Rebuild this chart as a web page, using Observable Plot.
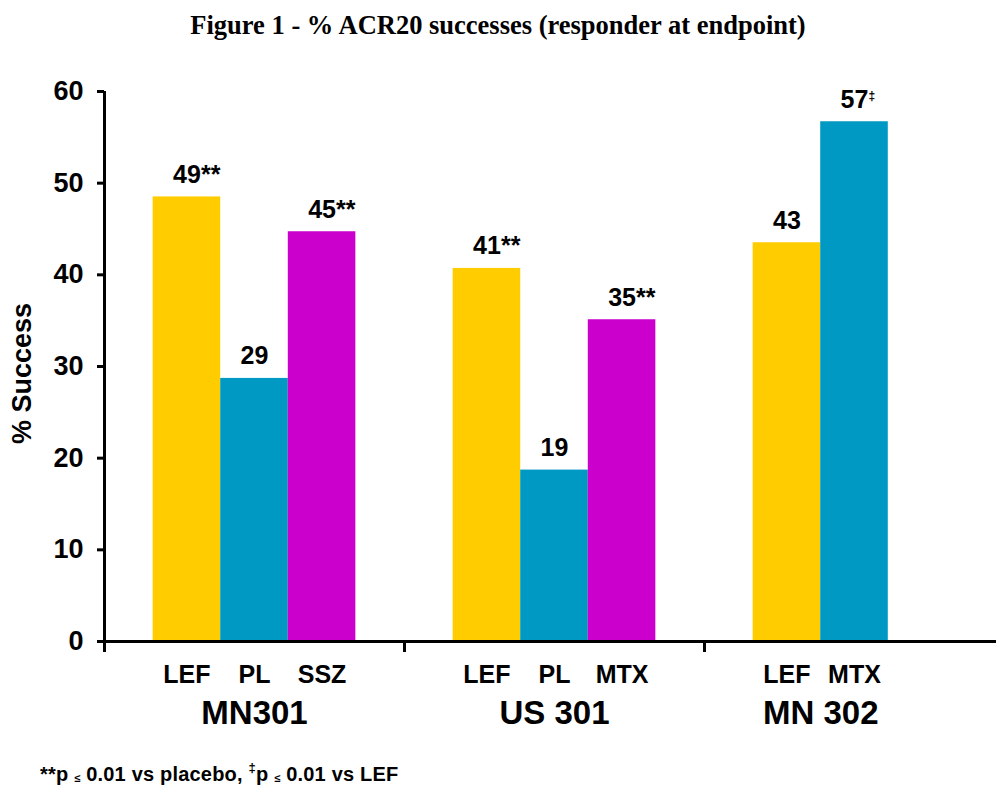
<!DOCTYPE html>
<html>
<head>
<meta charset="utf-8">
<script src="https://cdn.jsdelivr.net/npm/d3@7"></script>
<script src="https://cdn.jsdelivr.net/npm/@observablehq/plot@0.6"></script>
<style>
  html, body { margin: 0; padding: 0; background: #fff; overflow: hidden; }
  #title { font-family: "Liberation Serif", "Times New Roman", serif; font-weight: bold; font-size: 26.5px;
           text-align: center; height: 50px; line-height: 50px; color: #000; }
  #chart svg { display: block; }
  #note { font-family: "Liberation Sans", Arial, sans-serif; font-weight: bold; font-size: 20px;
          margin: 22px 0 0 40px; color: #000; line-height: 22px; white-space: nowrap; letter-spacing: 0.2px; }
  #note .sub { font-size: 11px; vertical-align: -1px; }
  #note .sup { font-size: 13px; vertical-align: 9px; }
</style>
</head>
<body>
<div id="title">Figure 1 - % ACR20 successes (responder at endpoint)</div>
<div id="chart"></div>
<div id="note">**p <span class="sub">≤</span> 0.01 vs placebo, <span class="sup">‡</span>p <span class="sub">≤</span> 0.01 vs LEF</div>
<script>
// ---- data ----
const studies = ["MN301", "US 301", "MN 302"];
const study = ["MN301", "MN301", "MN301", "US 301", "US 301", "US 301", "MN 302", "MN 302"];
const treatment = ["LEF", "PL", "SSZ", "LEF", "PL", "MTX", "LEF", "MTX"];
const values = [48.5, 28.7, 44.7, 40.7, 18.7, 35.1, 43.5, 56.7];
const valueLabels = ["49", "29", "45", "41", "19", "35", "43", "57"];
const significance = ["**", "", "**", "**", "", "**", "", "‡"];
const yTicks = [0, 10, 20, 30, 40, 50, 60];
const slotColors = ["#FFCC00", "#0099C4", "#CC00CC"];

// ---- layout (slot units: one bar = 1) ----
const GROUP = 4.44;   // width of a study group in bar units
const OFFSET = 0.72;  // empty space before first bar of a group

const rows = study.map((s, k) => {
  const g = studies.indexOf(s);
  const i = study.slice(0, k).filter(v => v === s).length;
  return {study: s, g, i, treatment: treatment[k], value: values[k], label: valueLabels[k], sig: significance[k]};
});
const left = d => d.g * GROUP + OFFSET + d.i;
const center = d => left(d) + 0.5;
const groupRows = studies.map((s, g) => {
  const n = study.filter(v => v === s).length;
  return {study: s, x: g * GROUP + OFFSET + n / 2};
});

const font = "'Liberation Sans', Arial, Helvetica, sans-serif";
const plotW = 996, mL = 104;
const chart = Plot.plot({
  width: plotW,
  height: 685,
  marginTop: 41,
  marginBottom: 94,
  marginLeft: mL,
  marginRight: 0,
  style: {fontFamily: font, color: "#000", background: "#fff"},
  x: {domain: [0, (plotW - mL) / 300 * GROUP], axis: null},
  y: {domain: [0, 60], axis: null},
  color: {type: "ordinal", domain: [0, 1, 2], range: slotColors},
  marks: [
    Plot.rectY(rows, {x1: left, x2: d => left(d) + 1, y: "value", fill: "i", inset: 0}),
    Plot.axisY({ticks: yTicks, tickSize: 7, tickPadding: 14, fontSize: 27, fontWeight: "bold",
                strokeWidth: 3, label: null}),
    Plot.ruleX([0], {strokeWidth: 3, insetBottom: -11}),
    Plot.ruleX([1, 2], {x: g => g * GROUP, strokeWidth: 3, insetTop: 550, insetBottom: -11}),
    Plot.ruleY([0], {strokeWidth: 3}),
    Plot.text(rows, {x: center, y: "value", text: "label", dy: -14, lineAnchor: "bottom",
                     fontSize: 25, fontWeight: "bold"}),
    Plot.text(rows.filter(d => d.sig === "**"), {x: center, y: "value", text: "sig", dx: 14, dy: -14,
                     textAnchor: "start", lineAnchor: "bottom", fontSize: 25, fontWeight: "bold"}),
    Plot.text(rows.filter(d => d.sig === "‡"), {x: center, y: "value", text: "sig", dx: 14, dy: -22,
                     textAnchor: "start", lineAnchor: "bottom", fontSize: 12, fontWeight: "bold"}),
    Plot.text(rows, {x: center, y: 0, text: "treatment", dy: 41, lineAnchor: "bottom",
                     fontSize: 25, fontWeight: "bold"}),
    Plot.text(groupRows, {x: "x", y: 0, text: "study", dy: 82, lineAnchor: "bottom",
                     fontSize: 33, fontWeight: "bold"}),
    Plot.text(["% Success"], {frameAnchor: "left", text: d => d, rotate: -90, dx: -82, dy: 7,
                     textAnchor: "middle", lineAnchor: "middle", fontSize: 27, fontWeight: "bold"})
  ]
});
document.getElementById("chart").appendChild(chart);
</script>
</body>
</html>
